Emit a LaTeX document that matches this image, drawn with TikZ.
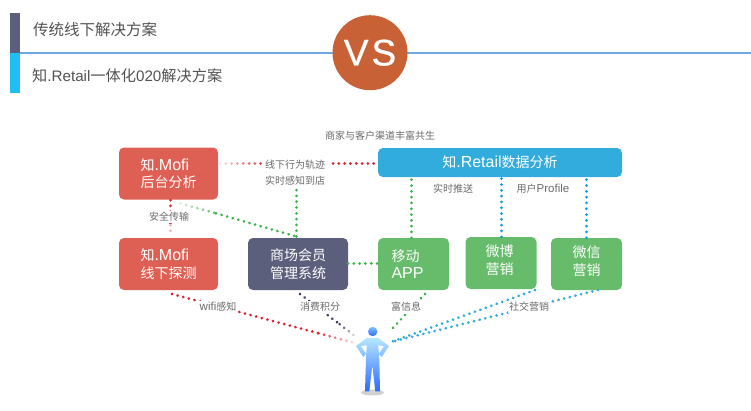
\documentclass[tikz,border=0pt]{standalone}
\usepackage{fontspec}
\setmainfont{Liberation Sans}
\newfontfamily\cjk{Noto Sans CJK SC}
\newfontfamily\vsfont[FakeBold=0.7]{Liberation Sans}
\newcommand{\zh}[1]{{\cjk #1}}
\newcommand{\lat}[1]{{\fontsize{16}{17.5}\selectfont #1}}
\usetikzlibrary{calc,fadings}
\definecolor{Slate}{HTML}{5C5F7C}
\definecolor{Sky}{HTML}{1FBFF5}
\definecolor{Rule}{HTML}{6FA8DC}
\definecolor{Rust}{HTML}{C96136}
\definecolor{Coral}{HTML}{DE6054}
\definecolor{Leaf}{HTML}{67BC6C}
\definecolor{Ocean}{HTML}{32ACDD}
\definecolor{DotRed}{HTML}{D9232E}
\definecolor{DotGreen}{HTML}{3CB44A}
\definecolor{DotBlue}{HTML}{0E9BD8}
\definecolor{DotNavy}{HTML}{3A3F60}
\definecolor{Caption}{HTML}{6A6A6A}
\definecolor{BodyTop}{HTML}{B5E6FF}
\definecolor{BodyEnd}{HTML}{2E6BFF}
\definecolor{HeadTop}{HTML}{7FC0FF}
\tikzfading[name=fadein,left color=transparent!90,right color=transparent!10]
\tikzfading[name=fadeout,left color=transparent!0,right color=transparent!90]
\tikzset{
  box/.style={
    rounded corners=5pt, text=white, inner sep=0pt,
    font=\fontsize{14}{17.5}\selectfont
  },
  leftbox/.style={box, align=left, text width=56pt},
  redbox/.style={leftbox, fill=Coral, minimum width=99pt, minimum height=52pt},
  navybox/.style={box, align=center, fill=Slate, minimum width=100pt, minimum height=52pt},
  greenbox/.style={box, fill=Leaf, minimum width=71pt, minimum height=52pt},
  boxtext/.style={text=white, inner sep=0pt, font=\fontsize{14}{17.5}\selectfont},
  caption/.style={text=Caption, fill=white, inner sep=1.5pt, font=\fontsize{10}{12}\selectfont},
  heading/.style={anchor=west, text=black!68, inner sep=0pt},
  dots/.style={line width=3pt, line cap=round, dash pattern=on 0.01pt off 5.8pt},
  reddots/.style={dots, draw=DotRed},
  greendots/.style={dots, draw=DotGreen},
  bluedots/.style={dots, draw=DotBlue},
  navydots/.style={dots, draw=DotNavy}
}

\begin{document}
\begin{tikzpicture}[x=1pt,y=-1pt]
  \useasboundingbox (0,0) rectangle (751,410);
  \fill[Slate] (10,13) rectangle (20,53);
  \fill[Sky] (10,53) rectangle (20,93);
  \draw[Rule,line width=1.6pt] (20,52.7) -- (751,52.7);
  \node[circle,fill=Rust,text=white,minimum size=75pt,inner sep=0pt,font=\fontsize{37}{37}\vsfont] (vs) at (370,52.7) {\raisebox{-2pt}{V\kern3pt S}};
  \node[heading,font=\fontsize{15.5}{18}\selectfont] (offline) at (33,30) {\zh{传统线下解决方案}};
  \node[heading,font=\fontsize{15.2}{18}\selectfont] (online) at (32,76) {\zh{知}.Retail\zh{一体化}020\zh{解决方案}};

  \node[redbox] (mofia) at (168.5,173.5) {\zh{知}\lat{.Mofi}\\\zh{后台分析}};
  \node[redbox] (mofib) at (168.5,264) {\zh{知}\lat{.Mofi}\\\zh{线下探测}};
  \node[navybox] (member) at (298,264) {\zh{商场会员}\\\zh{管理系统}};
  \node[greenbox,label={[boxtext,align=left,text width=44pt]center:{\zh{移动}\\\lat{APP}}}] (app) at (413.5,264) {};
  \node[greenbox,label={[boxtext,align=center,yshift=3pt,xshift=-1.5pt]center:{\zh{微博}\\\zh{营销}}}] (weibo) at (501,263) {};
  \node[greenbox,label={[boxtext,align=center,yshift=3pt]center:{\zh{微信}\\\zh{营销}}}] (weixin) at (586.5,264) {};
  \node[box,fill=Ocean,minimum width=244pt,minimum height=29pt] (retail) at (500,162.5) {\zh{知}\lat{.Retail}\zh{数据分析}};

  \coordinate (mofiright) at (220,163.5);
  \coordinate (trackleft) at (262,163.5);
  \coordinate (trackright) at (333,163.5);
  \coordinate (retailleft) at (378,163.5);
  \coordinate (mofidown) at (170.5,200);
  \coordinate (mofiup) at (170.5,236);
  \coordinate (securegap) at (170.5,225);
  \coordinate (mofiout) at (175,202);
  \coordinate (mofimid) at (216,213.3);
  \coordinate (memberup) at (296.5,236.5);
  \coordinate (membertop) at (296.5,173);
  \coordinate (memberright) at (348,263.5);
  \coordinate (appleft) at (378,263.5);
  \coordinate (redstart) at (172,294);
  \coordinate (navystart) at (300,294);
  \coordinate (greenstart) at (425,294);
  \coordinate (weibostart) at (535,290);
  \coordinate (weixinstart) at (598,290);
  \coordinate (handred) at (355,343);
  \coordinate (handnavy) at (355,336);
  \coordinate (handgreen) at (390,331);
  \coordinate (handblue) at (391,342);
  \coordinate (redfade) at ($(redstart)!0.8!(handred)$);
  \coordinate (navyfade) at ($(navystart)!0.72!(handnavy)$);

  \draw[reddots,path fading=fadein] (mofiright) -- (trackleft);
  \draw[reddots] (trackright) -- (retailleft);
  \draw[reddots] (mofidown) -- (securegap);
  \draw[dots,draw=DotRed!35] (securegap) -- (mofiup);
  \draw[greendots,path fading=fadein] (mofiout) -- (mofimid);
  \draw[greendots] (mofimid) -- (memberup);
  \draw[greendots] (memberup) -- (membertop);
  \draw[greendots] (memberright) -- (appleft);
  \draw[greendots] ([xshift=-2pt]app.north) -- ([xshift=-2pt]app.north |- retail.south);
  \draw[bluedots] ([xshift=0.5pt]weibo.north) -- ([xshift=0.5pt]weibo.north |- retail.south);
  \draw[bluedots] (weixin.north) -- (weixin.north |- retail.south);
  \draw[reddots] (redstart) -- (redfade);
  \draw[reddots,path fading=fadeout] (redfade) -- (handred);
  \draw[navydots] (navystart) -- (navyfade);
  \draw[navydots,path fading=fadeout] (navyfade) -- (handnavy);
  \draw[greendots] (greenstart) -- (handgreen);
  \draw[bluedots,draw=DotBlue!85] (weixinstart) -- (handblue);

  \node[caption,fill=none] (channel) at (380,136) {\zh{商家与客户渠道丰富共生}};
  \node[caption] (track) at (295,165) {\zh{线下行为轨迹}};
  \node[caption] (arrive) at (295,181) {\zh{实时感知到店}};
  \node[caption] (secure) at (169,217) {\zh{安全传输}};
  \node[caption,fill=none] (push) at (453,189) {\zh{实时推送}};
  \node[caption,fill=none] (profile) at (543,189) {\zh{用户}{\fontsize{11.5}{12}\selectfont Profile}};
  \node[caption] (wifi) at (218,307) {{\fontsize{11.5}{12}\selectfont wifi}\zh{感知}};
  \node[caption] (points) at (320,307) {\zh{消费积分}};
  \node[caption] (rich) at (406,307) {\zh{富信息}};
  \node[caption] (social) at (529,307) {\zh{社交营销}};
  \draw[bluedots,draw=DotBlue!85] (weibostart) -- (handblue);

  \fill[black!18] (372.5,392.5) ellipse (11.5 and 3);
  \shade[top color=BodyTop,bottom color=BodyEnd]
    (366.7,338) -- (378.3,338) -- (389,346) -- (381.7,357) -- (379,353.7) -- (384,346) -- (378.3,345.3)
    -- (379.3,358.7) -- (380,391.3) -- (375.3,391.3) -- (372.3,365.3) -- (369.3,391.3) -- (365,391.3)
    -- (366,358.7) -- (366.7,345.3) -- (360.7,346) -- (366,353.7) -- (363.3,357) -- (356,346) -- cycle;
  \shade[top color=HeadTop,bottom color=BodyEnd] (372.7,331.5) circle (4.7);
\end{tikzpicture}
\end{document}
